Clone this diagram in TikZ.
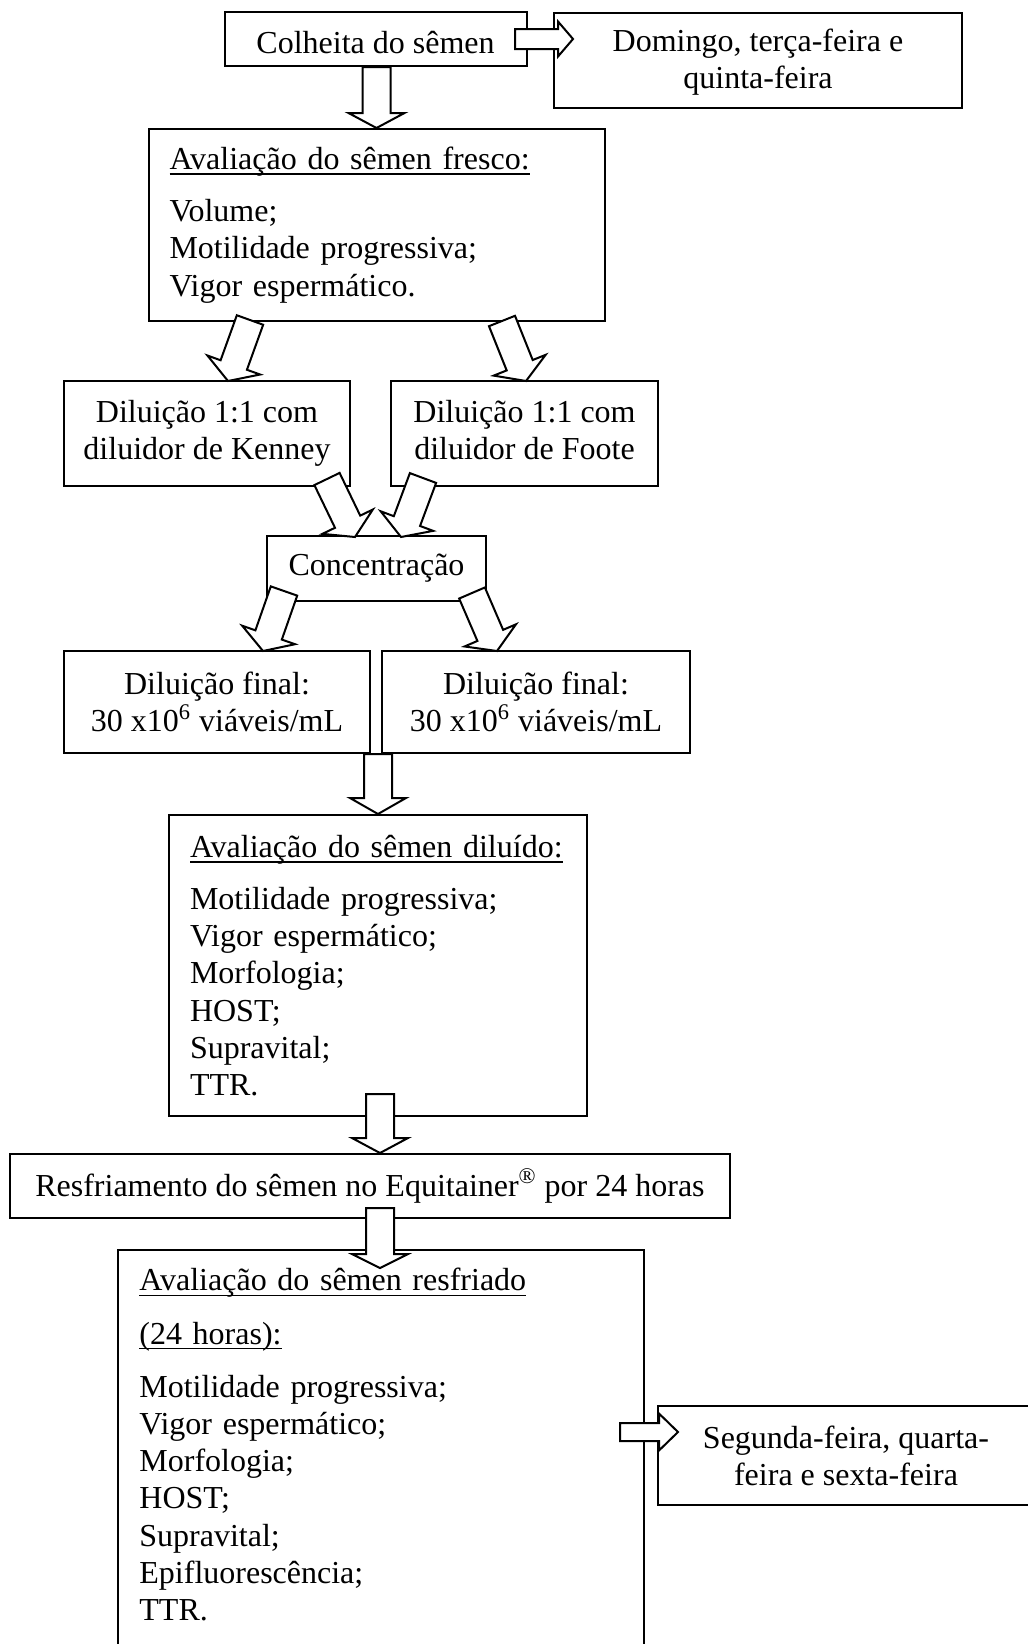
\documentclass[tikz,border=0pt]{standalone}
\usepackage{fontspec}
\setmainfont{Liberation Serif}
\usetikzlibrary{calc, positioning}

% underlined title
\newcommand{\undl}[1]{\setbox0\hbox{#1}\makebox[0pt][l]{\rule[-2.6pt]{\wd0}{0.8pt}}\box0}

% block arrow: tail, tip, half body width, half head width, head length
\newcommand{\blockarrow}[5]{%
    \coordinate (hb) at ($(#2)!#5!(#1)$);
    \filldraw[arrowline] ($(#1)!#3!90:(#2)$) -- ($(hb)!#3!90:(#2)$) -- ($(hb)!#4!90:(#2)$) -- (#2)
        -- ($(hb)!#4!-90:(#2)$) -- ($(hb)!#3!-90:(#2)$) -- ($(#1)!#3!-90:(#2)$) -- cycle;
}

\begin{document}
\begin{tikzpicture}[x=0.5pt, y=-0.5pt,
    every node/.style={font=\fontsize{16}{18.6}\selectfont, inner sep=0pt},
    box/.style={draw, line width=1pt, align=center},
    lbox/.style={draw, line width=1pt, align=left, inner xsep=10.5pt},
    arrowline/.style={fill=white, draw, line width=1pt, line join=miter}]
    \useasboundingbox (0,0) rectangle (1028,1644);
    \clip (0,0) rectangle (1028,1644);

    % Define boxes
    \node[box, minimum width=151pt, minimum height=27pt] (colheita) at (375.5,39) {\rule{0pt}{15pt}Colheita do sêmen};
    \node[box, minimum width=204pt, minimum height=47.5pt] (domingo) at (758,60.5) {\rule{0pt}{13pt}Domingo, terça-feira e\\quinta-feira};
    \node[lbox, text width=207pt, minimum height=96pt] (fresco) at (376.5,225) {\undl{Avaliação do sêmen fresco:}\\[7.5pt]
        Volume;\\Motilidade progressiva;\\Vigor espermático.};
    \node[box, minimum width=143pt, minimum height=52.5pt] (kenney) at (207,433.5) {Diluição 1:1 com\\diluidor de Kenney};
    \node[box, minimum width=133.5pt, minimum height=52.5pt] (foote) at (524.5,433.5) {Diluição 1:1 com\\diluidor de Foote\vphantom{y}};
    \node[box, minimum width=109.5pt, minimum height=32.5pt] (conc) at (376.5,568.5) {Concentração};
    \node[box, minimum width=153pt, minimum height=51pt] (finalL) at (217,702) {Diluição final:\\30 x10\textsuperscript{6} viáveis/mL};
    \node[box, minimum width=154pt, minimum height=51pt] (finalR) at (536,702) {Diluição final:\\30 x10\textsuperscript{6} viáveis/mL};
    \node[lbox, text width=188pt, minimum height=150.5pt] (diluido) at (378,965.5) {\undl{Avaliação do sêmen diluído:}\\[7.5pt]
        Motilidade progressiva;\\Vigor espermático;\\Morfologia;\\HOST;\\Supravital;\\TTR.};
    \node[box, minimum width=360pt, minimum height=32pt] (resfr) at (370,1186) {Resfriamento do sêmen no Equitainer\textsuperscript{®} por 24 horas};
    \node[align=left, inner xsep=10.5pt, inner ysep=9pt, text width=241.5pt, anchor=north west] (resfriado) at (118,1250)
        {\undl{Avaliação do sêmen resfriado}\\[8pt]\undl{(24 horas):}\\[8pt]
        Motilidade progressiva;\\Vigor espermático;\\Morfologia;\\HOST;\\Supravital;\\Epifluorescência;\\TTR.};
    \draw[line width=1pt] ([yshift=-40pt]resfriado.south west) -- (resfriado.north west)
        -- (resfriado.north east) -- ([yshift=-40pt]resfriado.south east);
    \node[box, minimum width=188pt, minimum height=49.5pt] (segunda) at (846,1455.5) {Segunda-feira, quarta-\\feira e sexta-feira};

    % Arrow ends
    \coordinate (a1) at (fresco.north |- colheita.south);
    \coordinate (f1) at (250,320);   \coordinate (k1) at (228,381);
    \coordinate (f2) at (502,321);   \coordinate (o1) at (526,381);
    \coordinate (k2) at (327,479);   \coordinate (c1) at (355,537);
    \coordinate (o2) at (423,478);   \coordinate (c2) at (401,537);
    \coordinate (c3) at (284,591);   \coordinate (l1) at (263,651);
    \coordinate (c4) at (472,593);   \coordinate (r1) at (497,651);
    \coordinate (a8) at (diluido.north |- finalL.south);
    \coordinate (d1) at (380,1094);  \coordinate (d2) at (d1 |- resfr.north);
    \coordinate (s1) at (380,1208);  \coordinate (s2) at (380,1268);
    \coordinate (h1) at (515,39);    \coordinate (h1e) at (573,39);
    \coordinate (h2) at (620,1432);  \coordinate (h2e) at (678,1432);

    % Draw arrows
    \blockarrow{a1}{fresco.north}{7pt}{14pt}{7.5pt}
    \blockarrow{h1}{h1e}{5pt}{8.75pt}{7.5pt}
    \blockarrow{f1}{k1}{7pt}{14pt}{8.5pt}
    \blockarrow{f2}{o1}{7pt}{14pt}{8.5pt}
    \blockarrow{k2}{c1}{7pt}{14pt}{8.5pt}
    \blockarrow{o2}{c2}{7pt}{14pt}{8.5pt}
    \blockarrow{c3}{l1}{7pt}{14pt}{8.5pt}
    \blockarrow{c4}{r1}{7pt}{14pt}{8.5pt}
    \blockarrow{a8}{diluido.north}{7pt}{14pt}{8pt}
    \blockarrow{d1}{d2}{7pt}{14pt}{7.5pt}
    \blockarrow{s1}{s2}{7pt}{14pt}{7pt}
    \blockarrow{h2}{h2e}{4.5pt}{9.25pt}{9.5pt}
\end{tikzpicture}
\end{document}
